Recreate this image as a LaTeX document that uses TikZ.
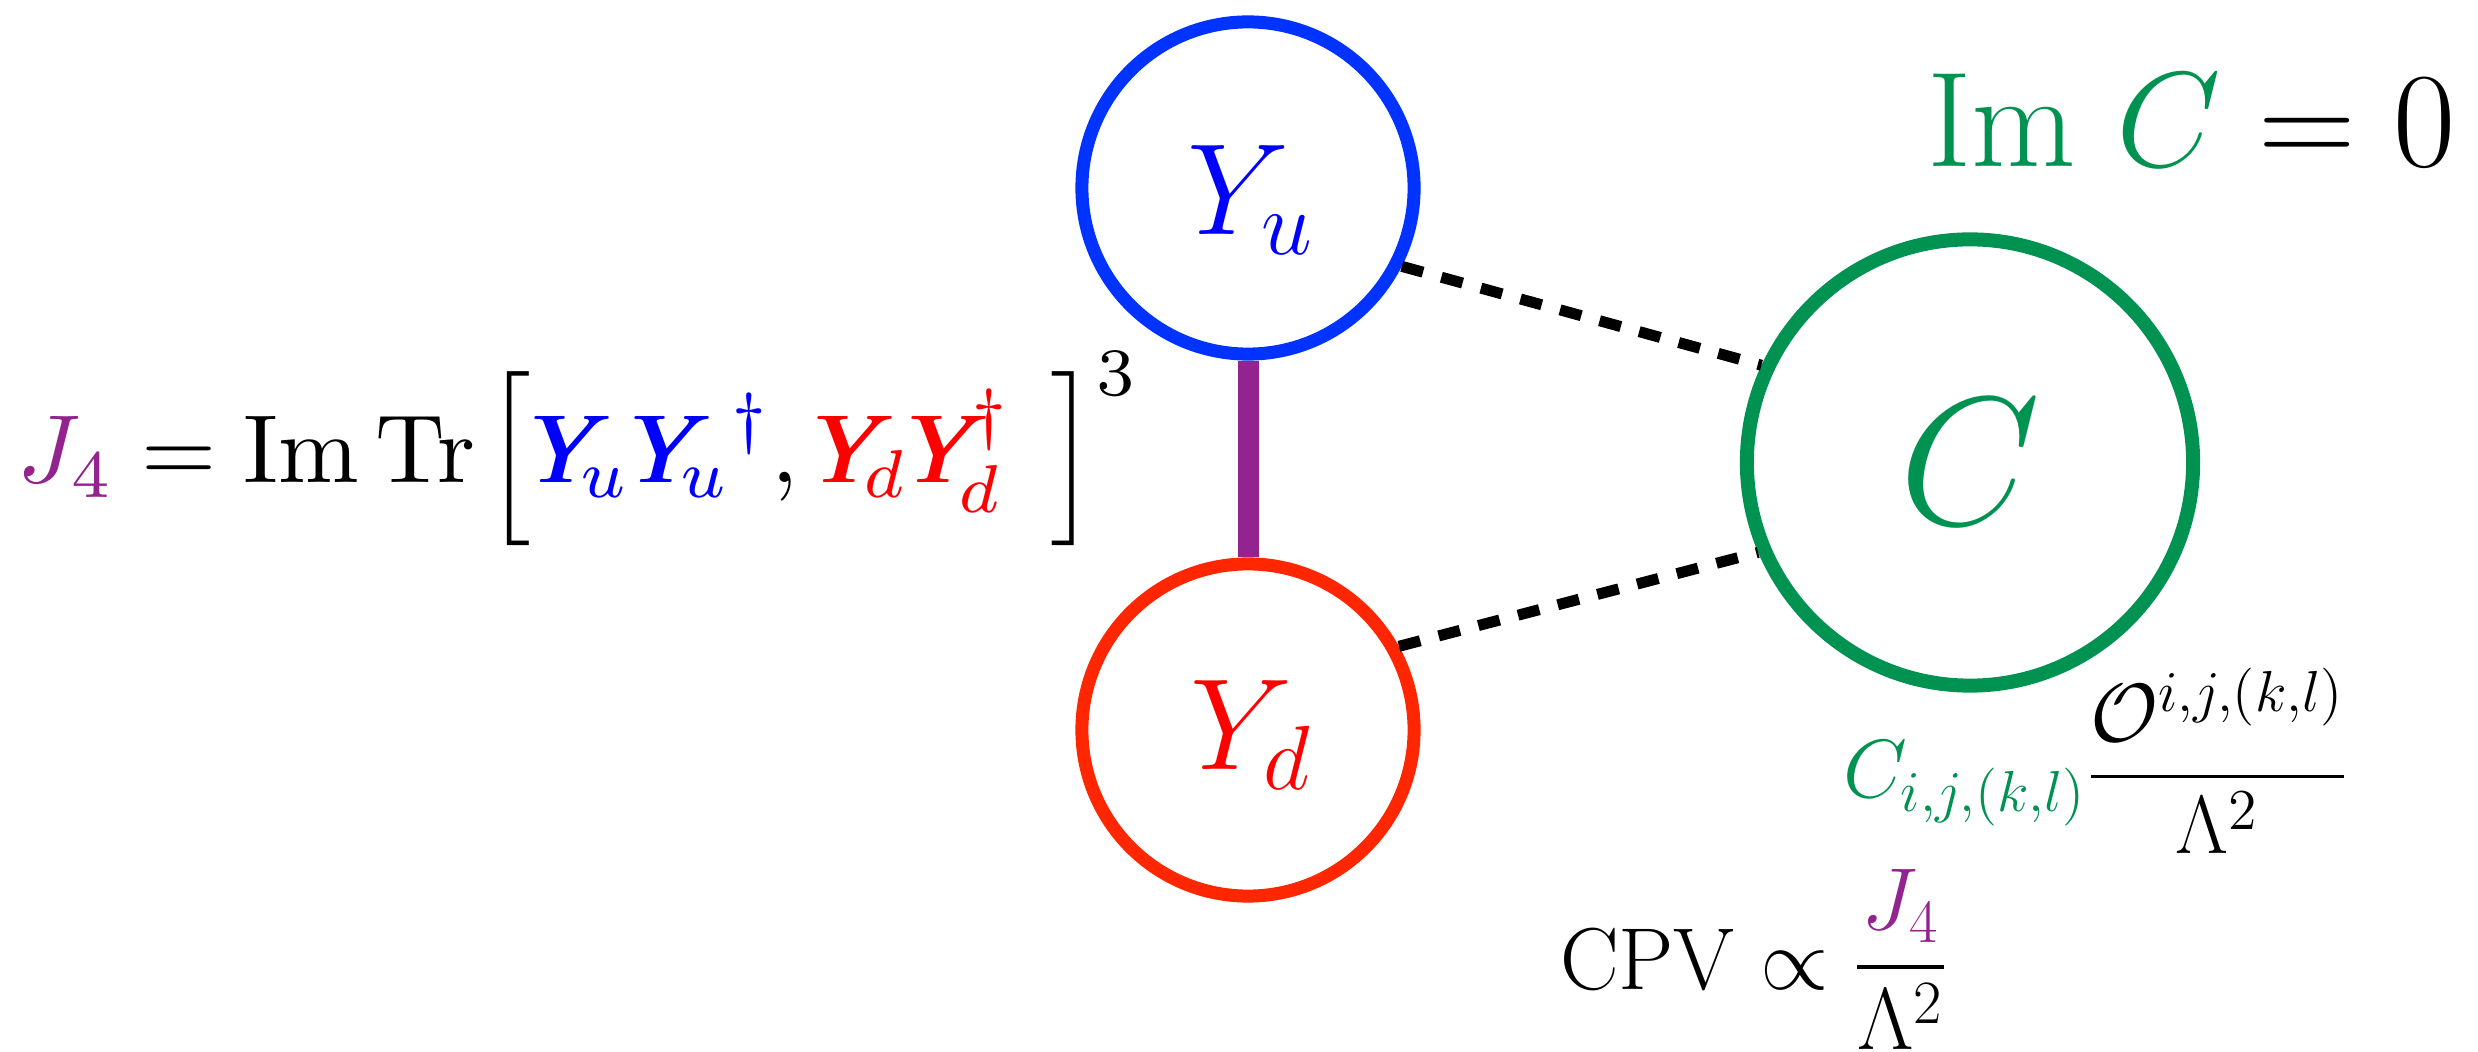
\RequirePackage{fix-cm}
\documentclass[tikz,border=0pt]{standalone}
\usepackage{amsmath}
\definecolor{cblue}{RGB}{0,51,255}
\definecolor{tblue}{RGB}{0,0,255}
\definecolor{cred}{RGB}{255,38,0}
\definecolor{tred}{RGB}{255,0,0}
\definecolor{cgreen}{RGB}{0,146,81}
\definecolor{cpurple}{RGB}{147,36,143}
\newcommand{\bY}{\mathord{\rlap{$Y$}\kern0.02em\rlap{$Y$}\kern0.02em Y}\mkern-6mu}
\begin{document}
\begin{tikzpicture}[x=0.01cm,y=-0.01cm,
  ring/.style={circle, draw, inner sep=0pt},
  yring/.style={ring, line width=0.13cm, minimum size=3.32cm},
  cring/.style={ring, draw=cgreen, line width=0.14cm, minimum size=4.46cm},
  dashlink/.style={line width=0.11cm, dash pattern=on 0.22cm off 0.19cm},
  jlink/.style={line width=0.21cm, draw=cpurple},
  mtext/.style={inner sep=0pt, outer sep=0pt}]
\useasboundingbox (0,0) rectangle (2478,1052);

% rings
\node[yring, draw=cblue] (Yu) at (1248,188) {};
\node[yring, draw=cred] (Yd) at (1248,730) {};
\node[cring, text=cgreen, font={\fontsize{52}{60}\selectfont}] (C) at (1970,462.5) {$C$};

% ring labels
\node[mtext, text=tblue, font={\fontsize{37}{44}\selectfont}] (Yulab) at (1251,200) {$Y_u$};
\node[mtext, text=tred, font={\fontsize{37}{44}\selectfont}] (Ydlab) at (1251,735) {$Y_d$};

% connectors
\draw[jlink] (Yu.south) -- (Yd.north);
\draw[dashlink] (Yu.-27) -- (C.155);
\draw[dashlink] (Yd.29) -- (C.-157.5);

% formulas
\node[mtext, anchor=base west, font={\fontsize{10}{12}\selectfont}, scale=2.75, transform shape] (J4) at (18,483)
  {$\color{cpurple}J_4\color{black} = \mathrm{Im}\,\mathrm{Tr}\mskip2mu\Big[{\color{tblue}\bY{}_u{\bY{}_u}^{\dagger}}, {\color{tred}\bY{}_d\bY{}_d^{\mkern3mu\dagger}}\hspace{0.4em}\Big]^3$};

\node[mtext, anchor=base west, font={\fontsize{38.5}{46}\selectfont}] (ImC) at (1927,167)
  {${\color{cgreen}\mathrm{Im}\ C} = 0$};

\node[mtext, anchor=base west, font={\fontsize{23.5}{28}\selectfont}] (Op) at (1843,797)
  {$\displaystyle {\color{cgreen}C_{i,j,(k,l)}}\frac{\mathcal{O}^{i,j,(k,l)}}{\Lambda^2}$};

\node[mtext, anchor=base west, font={\fontsize{25}{30}\selectfont}] (CPV) at (1560,989)
  {$\displaystyle \mathrm{CPV}\propto\frac{\color{cpurple}J_4}{\Lambda^2}$};
\end{tikzpicture}
\end{document}
